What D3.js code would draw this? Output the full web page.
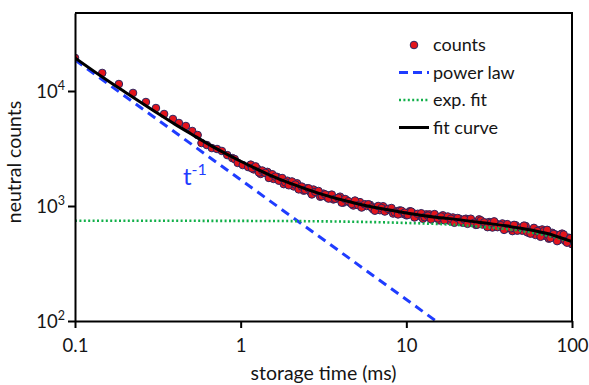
<!DOCTYPE html>
<html>
<head>
<meta charset="utf-8">
<script src="https://cdn.jsdelivr.net/npm/d3@7"></script>
<style>
  body { margin: 0; background: #fff; }
  text { font-family: Lato, "Open Sans", sans-serif; fill: #151515; }
</style>
</head>
<body>
<div id="chart"></div>
<script>
// early (sparse) counts, t < 1.2 ms
var tEarly = [0.1, 0.146, 0.184, 0.224, 0.268, 0.308, 0.345, 0.39, 0.424, 0.467, 0.51, 0.55,
    0.58, 0.625, 0.67, 0.72, 0.77, 0.83, 0.89, 0.92, 0.96, 1.03, 1.11];
var nEarly = [19400, 14350, 11500, 9620, 8020, 7110, 6310, 5710, 5270, 4960, 4490, 4140,
    3530, 3390, 3190, 3130, 3010, 2770, 2610, 2560, 2370, 2270, 2180];

// dense counts, 1.15 - 100 ms (first pass)
var tDense = [1.15, 1.2, 1.26, 1.32, 1.38, 1.45, 1.51, 1.58, 1.66, 1.74, 1.82, 1.91, 2.0, 2.09,
    2.19, 2.29, 2.4, 2.51, 2.63, 2.75, 2.88, 3.02, 3.16, 3.31, 3.47, 3.63, 3.8, 3.98, 4.17, 4.37,
    4.57, 4.79, 5.01, 5.25, 5.5, 5.75, 6.03, 6.31, 6.61, 6.92, 7.24, 7.59, 7.94, 8.32, 8.71, 9.12,
    9.55, 10, 10.5, 11, 11.5, 12, 12.6, 13.2, 13.8, 14.5, 15.1, 15.8, 16.6, 17.4, 18.2, 19.1, 20,
    20.9, 21.9, 22.9, 24, 25.1, 26.3, 27.5, 28.8, 30.2, 31.6, 33.1, 34.7, 36.3, 38, 39.8, 41.7,
    43.7, 45.7, 47.9, 50.1, 52.5, 55, 57.5, 60.3, 63.1, 66.1, 69.2, 72.4, 75.9, 79.4, 83.2, 87.1,
    91.2, 95.5, 100];
var nDense = [2290, 2080, 2110, 1900, 1970, 1980, 1800, 1720, 1790, 1690, 1550, 1660, 1590, 1480,
    1575, 1435, 1360, 1425, 1325, 1390, 1310, 1205, 1280, 1195, 1245, 1140, 1165, 1205, 1070, 1120,
    1070, 1010, 1075, 1080, 995, 1000, 1025, 935, 980, 920, 995, 915, 940, 860, 900, 915,
    855, 830, 900, 865, 815, 840, 775, 845, 845, 790, 815, 750, 830, 775, 745, 795, 750,
    775, 715, 775, 720, 735, 685, 765, 690, 715, 725, 650, 705, 670, 705, 635, 670,
    605, 680, 640, 610, 670, 585, 620, 560, 615, 625, 550, 520, 585, 565, 505, 575,
    495, 530, 465];

// dense counts (in-between samples)
var tMid = [1.17, 1.23, 1.29, 1.35, 1.41, 1.48, 1.55, 1.62, 1.7, 1.78, 1.86, 1.95, 2.04, 2.14,
    2.24, 2.34, 2.45, 2.57, 2.69, 2.82, 2.95, 3.09, 3.24, 3.39, 3.55, 3.72, 3.89, 4.07, 4.27, 4.47,
    4.68, 4.9, 5.13, 5.37, 5.62, 5.89, 6.17, 6.46, 6.76, 7.08, 7.41, 7.76, 8.13, 8.51, 8.91, 9.33,
    9.77, 10.2, 10.7, 11.2, 11.7, 12.3, 12.9, 13.5, 14.1, 14.8, 15.5, 16.2, 17, 17.8, 18.6, 19.5,
    20.4, 21.4, 22.4, 23.4, 24.5, 25.7, 26.9, 28.2, 29.5, 30.9, 32.4, 33.9, 35.5, 37.2, 38.9, 40.7,
    42.7, 44.7, 46.8, 49, 51.3, 53.7, 56.2, 58.9, 61.7, 64.6, 67.6, 70.8, 74.1, 77.6, 81.3, 85.1,
    89.1, 93.3, 97.7];
var nMid = [2125, 2210, 1955, 2035, 1940, 1755, 1890, 1800, 1660, 1750, 1605, 1515, 1635, 1535,
    1395, 1475, 1375, 1425, 1260, 1325, 1350, 1220, 1260, 1160, 1255, 1155, 1180, 1070, 1150, 1100,
    1040, 1115, 1015, 970, 1035, 1035, 970, 910, 1000, 960, 895, 945, 960, 880, 845, 910,
    875, 835, 895, 795, 855, 865, 800, 825, 765, 850, 780, 810, 750, 810, 775, 715,
    785, 735, 765, 700, 775, 715, 690, 750, 720, 655, 715, 735, 655, 680, 620, 695,
    640, 685, 610, 650, 675, 590, 575, 645, 605, 540, 605, 620, 525, 570, 495, 565,
    565, 480, 525];

// power law (t^-1) line, two ends
var powerT = [0.1, 15.1];
var powerN = [18600, 100];

// exponential fit
var expT = [0.1, 1, 3, 10, 20, 30, 50, 70, 100];
var expN = [745, 742, 736, 712, 685, 655, 605, 555, 488];

// total fit curve
var fitT = [0.1, 0.15, 0.2, 0.3, 0.4, 0.5, 0.7, 1, 1.5, 2, 3, 5, 7, 10, 15, 20, 30, 40, 50, 70, 100];
var fitN = [19400, 12900, 9800, 6700, 5150, 4250, 3200, 2450, 1860, 1570, 1280, 1050, 950, 870,
    800, 765, 710, 672, 638, 580, 490];

var xTickValues = [0.1, 1, 10, 100];
var xTickLabels = ["0.1", "1", "10", "100"];
var yTickExps = [2, 3, 4];

var legendLabels = ["counts", "power law", "exp. fit", "fit curve"];

var margin = {top: 13, right: 17, bottom: 64, left: 75};
var width = 589 - margin.left - margin.right,
    height = 385 - margin.top - margin.bottom;

var svg = d3.select("#chart").append("svg")
    .attr("width", 589)
    .attr("height", 385)
    .append("g")
    .attr("transform", "translate(" + margin.left + "," + margin.top + ")");

var x = d3.scaleLog().domain([0.1, 100]).range([0, width]);
var y = d3.scaleLog().domain([100, Math.pow(10, 2 + height / 115)]).range([height, 0]);

function pairs(ts, ns) {
    return ts.map(function (t, i) { return [t, ns[i]]; });
}

var line = d3.line()
    .x(function (d) { return x(d[0]); })
    .y(function (d) { return y(d[1]); });

svg.append("clipPath").attr("id", "clip")
    .append("rect").attr("width", width).attr("height", height);

var plot = svg.append("g").attr("clip-path", "url(#clip)");

// counts
var counts = pairs(tEarly, nEarly).concat(pairs(tDense, nDense), pairs(tMid, nMid));
plot.selectAll(".dot")
    .data(counts)
    .enter()
    .append("circle")
    .attr("class", "dot")
    .attr("cx", function (d) { return x(d[0]); })
    .attr("cy", function (d) { return y(d[1]); })
    .attr("r", 3.8)
    .attr("fill", "#e3141c")
    .attr("stroke", "#2c2560")
    .attr("stroke-width", 1);

// power law
plot.append("path")
    .datum(pairs(powerT, powerN))
    .attr("d", line)
    .attr("fill", "none")
    .attr("stroke", "#1f3cff")
    .attr("stroke-width", 3)
    .attr("stroke-dasharray", "9,6");

// exp fit
plot.append("path")
    .datum(pairs(expT, expN))
    .attr("d", line.curve(d3.curveMonotoneX))
    .attr("fill", "none")
    .attr("stroke", "#12b04a")
    .attr("stroke-width", 2.6)
    .attr("stroke-dasharray", "2,2.4");

// fit curve
plot.append("path")
    .datum(pairs(fitT, fitN))
    .attr("d", line.curve(d3.curveMonotoneX))
    .attr("fill", "none")
    .attr("stroke", "#000")
    .attr("stroke-width", 3);

// t^-1 label
var tl = svg.append("text")
    .attr("x", 108)
    .attr("y", 172)
    .attr("font-size", 24)
    .style("fill", "#1f3cff");
tl.append("tspan").text("t");
tl.append("tspan").attr("dy", -10).attr("font-size", 16).text("-1");

// frame
svg.append("path")
    .attr("d", "M0,0H" + width + "V" + height)
    .attr("fill", "none")
    .attr("stroke", "#000")
    .attr("stroke-width", 2);

// axes
var xAxis = d3.axisBottom(x).tickValues(xTickValues).tickSize(7).tickSizeOuter(0)
    .tickFormat(function (d, i) { return xTickLabels[i]; });
var gx = svg.append("g")
    .attr("transform", "translate(0," + height + ")")
    .call(xAxis);
gx.selectAll("text").attr("font-size", 18.5).attr("dy", "1.15em").style("fill", "#151515");

var yAxis = d3.axisLeft(y).tickValues(yTickExps.map(function (e) { return Math.pow(10, e); }))
    .tickSize(7).tickSizeOuter(0).tickFormat("");
var gy = svg.append("g").call(yAxis);

[gx, gy].forEach(function (g) {
    g.select(".domain").attr("stroke-width", 2).attr("stroke", "#000");
    g.selectAll(".tick line").attr("stroke-width", 2).attr("stroke", "#000");
});

gy.selectAll(".tick")
    .append("text")
    .attr("x", -10)
    .attr("y", 6)
    .attr("text-anchor", "end")
    .attr("font-size", 18.5)
    .style("fill", "#151515")
    .each(function (d, i) {
        var t = d3.select(this);
        t.append("tspan").text("10");
        t.append("tspan").attr("dy", -8).attr("font-size", 12.5).text(yTickExps[i]);
    });

// axis titles
svg.append("text")
    .attr("x", width / 2)
    .attr("y", height + 59)
    .attr("text-anchor", "middle")
    .attr("font-size", 19.5)
    .text("storage time (ms)");

svg.append("text")
    .attr("transform", "translate(" + (-54) + "," + (height / 2 - 5) + ") rotate(-90)")
    .attr("text-anchor", "middle")
    .attr("font-size", 19.5)
    .text("neutral counts");

// legend
var lg = svg.append("g").attr("transform", "translate(" + (399 - margin.left) + "," + (45 - margin.top) + ")");
var rowH = 27.5;
lg.append("circle").attr("cx", 15).attr("cy", 0).attr("r", 3.8)
    .attr("fill", "#e3141c").attr("stroke", "#2c2560").attr("stroke-width", 1);
lg.append("line").attr("x1", 0).attr("x2", 30).attr("y1", rowH).attr("y2", rowH)
    .attr("stroke", "#1f3cff").attr("stroke-width", 3).attr("stroke-dasharray", "9,5");
lg.append("line").attr("x1", 0).attr("x2", 30).attr("y1", 2 * rowH).attr("y2", 2 * rowH)
    .attr("stroke", "#12b04a").attr("stroke-width", 2.6).attr("stroke-dasharray", "2,2.4");
lg.append("line").attr("x1", 0).attr("x2", 30).attr("y1", 3 * rowH).attr("y2", 3 * rowH)
    .attr("stroke", "#000").attr("stroke-width", 3);
lg.selectAll(".lgtext")
    .data(legendLabels)
    .enter()
    .append("text")
    .attr("class", "lgtext")
    .attr("x", 34)
    .attr("y", function (d, i) { return i * rowH + 6; })
    .attr("font-size", 18)
    .text(function (d) { return d; });
</script>
</body>
</html>
